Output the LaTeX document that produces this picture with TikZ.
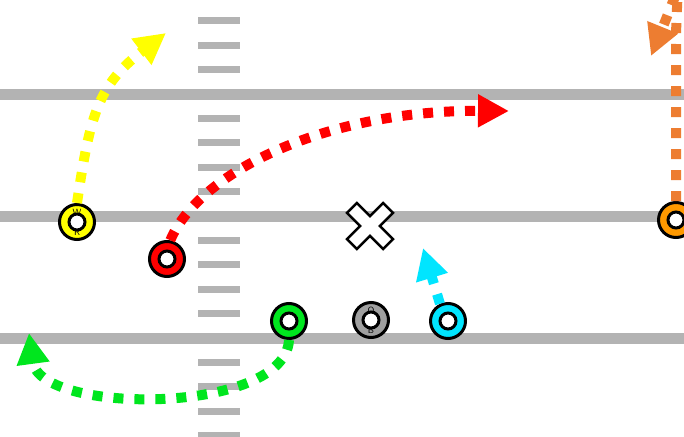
\documentclass[tikz,border=0pt]{standalone}
\usetikzlibrary{arrows.meta}

\definecolor{fieldgray}{RGB}{179,179,179}
\definecolor{wryellow}{RGB}{255,255,0}
\definecolor{rbred}{RGB}{255,0,0}
\definecolor{tegreen}{RGB}{0,230,30}
\definecolor{qbgray}{RGB}{160,160,160}
\definecolor{slotcyan}{RGB}{0,229,255}
\definecolor{wideorange}{RGB}{237,125,49}
\definecolor{wideplayer}{RGB}{255,153,0}

\tikzset{
  yard/.style={fill=fieldgray},
  player/.style={circle, draw=black, line width=3pt, minimum size=35pt, inner sep=0pt, fill=#1},
  hole/.style={circle, draw=black, line width=3pt, minimum size=16pt, inner sep=0pt, fill=white},
  tag/.style={font=\sffamily\fontsize{9}{9}\selectfont, inner sep=0pt},
  route/.style={draw=#1, line width=10pt, dash pattern=on 10pt off 11pt,
    -{Triangle[length=31pt,width=31pt]}},
}

\begin{document}
\begin{tikzpicture}[x=1pt,y=-1pt]

\useasboundingbox (0,0) rectangle (684,436);
\clip (0,0) rectangle (684,436);
\fill[white] (0,0) rectangle (684,436);

% Yard lines
\foreach \y in {94,216,338}
{
    \fill[yard] (0,\y-5.5) rectangle (684,\y+5.5);
}

% Hash marks
\foreach \y in {-3.6,20.8,45.2,69.6,118.4,142.8,167.2,191.6,240.4,264.8,289.2,313.6,362.4,386.8,411.2,435.6}
{
    \fill[yard] (198,\y-3.5) rectangle (240,\y+3.5);
}

% Players
\node[player=wryellow] (wr) at (77,222) {};
\node[player=rbred] (rb) at (167,259) {};
\node[player=tegreen] (te) at (289,321) {};
\node[player=qbgray] (qb) at (371,320) {};
\node[player=slotcyan] (slot) at (448,321) {};
\node[player=wideplayer] (wide) at (676,220) {};

% Route ends
\coordinate (wrtip) at (166,33);
\coordinate (rbtip) at (509,111);
\coordinate (tetip) at (29,333);
\coordinate (slottip) at (423,248);
\coordinate (widetip) at (651,56);

% Routes
\draw[route=wryellow] (wr.north) .. controls (90,115) and (98,85) .. (wrtip);
\draw[route=rbred] (rb.80) .. controls (200,170) and (330,110) .. (rbtip);
\draw[route=tegreen] (te.south) .. controls (285,415) and (40,415) .. (tetip);
\draw[route=slotcyan] (slot.115) -- (slottip);
\draw[route=wideorange] (wide.north) -- (676,45) .. controls (676,-15) and (684,-25) .. (widetip);

% Letters
\node[tag] at ([yshift=10pt]wr.center) {W};
\node[tag] at ([yshift=-10pt]wr.center) {R};
\node[tag] at ([yshift=9pt]qb.center) {Q};
\node[tag] at ([yshift=-10pt]qb.center) {B};

% Holes
\foreach \p in {wr,rb,te,qb,slot,wide}
{
    \node[hole] at (\p) {};
}

% Ball spot
\begin{scope}[shift={(370,226)}, rotate=45]
\draw[line width=2.5pt, fill=white] (25.5,7) -- (7,7) -- (7,25.5) -- (-7,25.5) -- (-7,7) -- (-25.5,7)
    -- (-25.5,-7) -- (-7,-7) -- (-7,-25.5) -- (7,-25.5) -- (7,-7) -- (25.5,-7) -- cycle;
\end{scope}

\end{tikzpicture}
\end{document}
